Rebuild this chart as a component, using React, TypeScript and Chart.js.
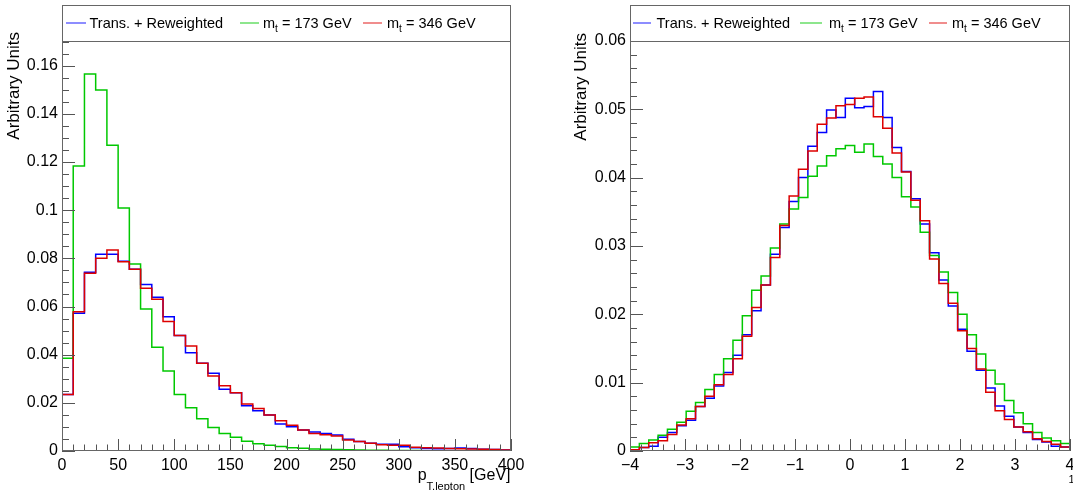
import React, { useEffect, useRef } from "react";
import { Chart, registerables } from "chart.js";

Chart.register(...registerables);

const FONT = "'Liberation Sans', Arial, Helvetica, sans-serif";

// ---------- Left panel: lepton pT, 40 bins of 10 GeV in [0, 400] ----------
const ptRange = [0, 400];
const ptBinCount = 40;
const ptReweighted = [
  0.0235, 0.0572, 0.0742, 0.0817, 0.0817, 0.0788, 0.0755, 0.0691, 0.0638, 0.0558,
  0.048, 0.0408, 0.0364, 0.0323, 0.0256, 0.0242, 0.0188, 0.0167, 0.015, 0.0112,
  0.0101, 0.0087, 0.0079, 0.0073, 0.0066, 0.0049, 0.0039, 0.0032, 0.0028, 0.0028,
  0.0018, 0.0014, 0.001, 0.0009, 0.001, 0.0012, 0.001, 0.0007, 0.0006, 0.0004,
];
const ptMt173 = [
  0.0385, 0.1184, 0.1566, 0.1499, 0.127, 0.1009, 0.0777, 0.059, 0.0431, 0.0332,
  0.0235, 0.018, 0.0134, 0.0098, 0.0073, 0.0057, 0.004, 0.003, 0.0024, 0.0019,
  0.0014, 0.0011, 0.0008, 0.0007, 0.0006, 0.0005, 0.0004, 0.0003, 0.0003, 0.0002,
  0.0002, 0.0002, 0.0001, 0.0001, 0.0001, 0.0001, 0.0001, 0.0001, 0.0001, 0.0001,
];
const ptMt346 = [
  0.0235, 0.0578, 0.0738, 0.08, 0.0835, 0.0786, 0.0755, 0.0676, 0.063, 0.0538,
  0.048, 0.0436, 0.0364, 0.0311, 0.0271, 0.0242, 0.0195, 0.0176, 0.015, 0.0126,
  0.0107, 0.0087, 0.0073, 0.0068, 0.0062, 0.0046, 0.0039, 0.0032, 0.0026, 0.0024,
  0.0024, 0.0016, 0.0014, 0.0012, 0.001, 0.0009, 0.0008, 0.0007, 0.0006, 0.0004,
];
const ptXTicks = [0, 50, 100, 150, 200, 250, 300, 350, 400];
const ptYTicks = [0, 0.02, 0.04, 0.06, 0.08, 0.1, 0.12, 0.14, 0.16];

// ---------- Right panel: 47 bins in [-4, 4] ----------
const etaRange = [-4, 4];
const etaBinCount = 47;
const etaReweighted = [
  0.0002, 0.0005, 0.0007, 0.002, 0.0027, 0.0037, 0.0045, 0.0065, 0.0077, 0.0095,
  0.0115, 0.014, 0.017, 0.0205, 0.0243, 0.0288, 0.0327, 0.0365, 0.04, 0.0446,
  0.0466, 0.0499, 0.0488, 0.0516, 0.0502, 0.0504, 0.0526, 0.0488, 0.0444, 0.0409,
  0.0369, 0.0332, 0.029, 0.025, 0.0212, 0.0178, 0.0146, 0.0118, 0.0092, 0.0066,
  0.0051, 0.0035, 0.0027, 0.0017, 0.0013, 0.0007, 0.0006,
];
const etaMt173 = [
  0.0006, 0.0011, 0.0016, 0.0023, 0.0032, 0.0042, 0.0058, 0.0071, 0.009, 0.0112,
  0.0135, 0.0162, 0.0198, 0.0235, 0.0256, 0.0297, 0.0332, 0.0354, 0.0371, 0.0402,
  0.0417, 0.0432, 0.0442, 0.0447, 0.0437, 0.0449, 0.0431, 0.042, 0.04, 0.0372,
  0.0357, 0.032, 0.0286, 0.0262, 0.0232, 0.02, 0.017, 0.0142, 0.0118, 0.0098,
  0.0074, 0.0056, 0.004, 0.0027, 0.0019, 0.0015, 0.0011,
];
const etaMt346 = [
  0.0002, 0.0005, 0.0012, 0.0015, 0.0024, 0.0038, 0.0047, 0.0065, 0.008, 0.0097,
  0.0112, 0.0135, 0.0168, 0.021, 0.0243, 0.0283, 0.033, 0.0373, 0.0412, 0.0439,
  0.0478, 0.0487, 0.0505, 0.0507, 0.0516, 0.0518, 0.0489, 0.0472, 0.0436, 0.0408,
  0.0367, 0.0337, 0.0281, 0.0245, 0.0216, 0.0176, 0.015, 0.012, 0.0086, 0.0059,
  0.0046, 0.0035, 0.0028, 0.0018, 0.0014, 0.001, 0.0006,
];
const etaXTicks = [-4, -3, -2, -1, 0, 1, 2, 3, 4];
const etaYTicks = [0, 0.01, 0.02, 0.03, 0.04, 0.05, 0.06];

const seriesNames = ["Trans. + Reweighted", "m_t = 173 GeV", "m_t = 346 GeV"];
const seriesColors = ["#0000ff", "#00c800", "#dd0000"];
const seriesOrder = [2, 1, 0];
const yTitle = "Arbitrary Units";

const SHIFT = 20; // canvas is shifted up by this many px
const CANVAS_H = 510;
const AREA_TOP = 6 + SHIFT;
const AREA_BOTTOM = 451 + SHIFT;
const LEGEND_BOTTOM = 41.5 + SHIFT;

function histPoints(values: number[], lo: number, hi: number, n: number) {
  const w = (hi - lo) / n;
  const pts = values.map((v, i) => ({ x: lo + i * w, y: v }));
  pts.push({ x: hi, y: values[values.length - 1] });
  return pts;
}

const fmtY = (v: number) => (v === 0 ? "0" : String(parseFloat(v.toFixed(4))));
const fmtX = (v: number) => (v < 0 ? "\u2212" + Math.abs(v) : String(v));

interface Panel {
  canvasLeft: number;
  canvasWidth: number;
  areaLeft: number;
  areaRight: number;
  range: number[];
  bins: number;
  series: number[][];
  xTicks: number[];
  yTicks: number[];
  yMax: number;
  xMinor: number;
  yMinor: number;
  legend: { x1: number; x2: number; tx: number }[];
  yTitleX: number;
  yTitleEnd: number;
  left: boolean;
}

const panels: Panel[] = [
  {
    canvasLeft: 0,
    canvasWidth: 536,
    areaLeft: 62,
    areaRight: 511,
    range: ptRange,
    bins: ptBinCount,
    series: [ptReweighted, ptMt173, ptMt346],
    xTicks: ptXTicks,
    yTicks: ptYTicks,
    yMax: 0.1848,
    xMinor: 10,
    yMinor: 0.005,
    legend: [
      { x1: 66, x2: 86, tx: 89.5 },
      { x1: 240, x2: 259, tx: 263 },
      { x1: 363, x2: 382, tx: 387 },
    ],
    yTitleX: 14,
    yTitleEnd: 32,
    left: true,
  },
  {
    canvasLeft: 536,
    canvasWidth: 580,
    areaLeft: 630 - 536,
    areaRight: 1070 - 536,
    range: etaRange,
    bins: etaBinCount,
    series: [etaReweighted, etaMt173, etaMt346],
    xTicks: etaXTicks,
    yTicks: etaYTicks,
    yMax: 0.0651,
    xMinor: 0.2,
    yMinor: 0.002,
    legend: [
      { x1: 633, x2: 651, tx: 656.5 },
      { x1: 800, x2: 822, tx: 829 },
      { x1: 929, x2: 947, tx: 952 },
    ],
    yTitleX: 581,
    yTitleEnd: 33,
    left: false,
  },
];

function drawRich(ctx: CanvasRenderingContext2D, text: string, x: number, baseline: number, size: number, subSize: number, subDrop: number) {
  const m = text.match(/^(.*?)_(\w)(.*)$/);
  ctx.textAlign = "left";
  ctx.textBaseline = "alphabetic";
  ctx.fillStyle = "#000";
  if (!m) {
    ctx.font = `${size}px ${FONT}`;
    ctx.fillText(text, x, baseline);
    return;
  }
  ctx.font = `${size}px ${FONT}`;
  ctx.fillText(m[1], x, baseline);
  let cx = x + ctx.measureText(m[1]).width;
  ctx.font = `${subSize}px ${FONT}`;
  ctx.fillText(m[2], cx, baseline + subDrop);
  cx += ctx.measureText(m[2]).width;
  ctx.font = `${size}px ${FONT}`;
  ctx.fillText(m[3], cx, baseline);
}

function makeDecor(p: Panel) {
  return {
    id: "rootDecor",
    afterDraw(chart: any) {
      const ctx: CanvasRenderingContext2D = chart.ctx;
      const a = chart.chartArea;
      const xs = chart.scales.x;
      const ys = chart.scales.y;
      const ox = p.canvasLeft;
      ctx.save();
      // ticks
      ctx.strokeStyle = "#555";
      ctx.lineWidth = 1;
      ctx.beginPath();
      const nx = Math.round((p.range[1] - p.range[0]) / p.xMinor);
      for (let i = 0; i <= nx; i++) {
        const v = p.range[0] + i * p.xMinor;
        const major = p.xTicks.some((t) => Math.abs(t - v) < 1e-6);
        const px = Math.round(xs.getPixelForValue(v)) + 0.5;
        ctx.moveTo(px, a.bottom);
        ctx.lineTo(px, a.bottom - (major ? 12 : 6.5));
      }
      const ny = Math.floor(p.yMax / p.yMinor + 1e-6);
      for (let i = 0; i <= ny; i++) {
        const v = i * p.yMinor;
        const major = p.yTicks.some((t) => Math.abs(t - v) < 1e-7);
        const py = Math.round(ys.getPixelForValue(v)) + 0.5;
        ctx.moveTo(a.left, py);
        ctx.lineTo(a.left + (major ? 13 : 7), py);
      }
      ctx.stroke();
      // legend box
      ctx.fillStyle = "#fff";
      ctx.fillRect(a.left, a.top - 1, a.right - a.left, LEGEND_BOTTOM - a.top + 1);
      ctx.strokeStyle = "#666";
      ctx.beginPath();
      ctx.moveTo(a.left, LEGEND_BOTTOM);
      ctx.lineTo(a.right, LEGEND_BOTTOM);
      ctx.stroke();
      // frame
      ctx.strokeRect(a.left + 0.5, a.top - 0.5, a.right - a.left - 1, a.bottom - a.top);
      // legend entries
      p.legend.forEach((e, i) => {
        ctx.strokeStyle = seriesColors[i];
        ctx.globalAlpha = 0.75;
        ctx.lineWidth = 1.2;
        ctx.beginPath();
        ctx.moveTo(e.x1 - ox, 23 + SHIFT);
        ctx.lineTo(e.x2 - ox, 23 + SHIFT);
        ctx.stroke();
        ctx.globalAlpha = 1;
        drawRich(ctx, seriesNames[i], e.tx - ox, 28 + SHIFT, 14.5, 10, 4);
      });
      // y title
      ctx.save();
      ctx.translate(p.yTitleX - ox, p.yTitleEnd + SHIFT);
      ctx.rotate(-Math.PI / 2);
      ctx.font = `17px ${FONT}`;
      ctx.fillStyle = "#000";
      ctx.textAlign = "right";
      ctx.textBaseline = "middle";
      ctx.fillText(yTitle, 0, 0);
      ctx.restore();
      // x title
      ctx.fillStyle = "#000";
      ctx.textBaseline = "alphabetic";
      if (p.left) {
        ctx.font = `16px ${FONT}`;
        const w1 = ctx.measureText("p").width;
        const w3 = ctx.measureText(" [GeV]").width;
        ctx.font = `11px ${FONT}`;
        const w2 = ctx.measureText("T,lepton").width;
        const end = 510.5;
        let cx = end - (w1 + w2 + w3);
        ctx.textAlign = "left";
        ctx.font = `16px ${FONT}`;
        ctx.fillText("p", cx, 480 + SHIFT);
        cx += w1;
        ctx.font = `11px ${FONT}`;
        ctx.fillText("T,lepton", cx, 489.6 + SHIFT);
        cx += w2;
        ctx.font = `16px ${FONT}`;
        ctx.fillText(" [GeV]", cx, 480 + SHIFT);
      } else {
        ctx.font = `11px ${FONT}`;
        ctx.textAlign = "left";
        ctx.fillText("1", 1068.5 - ox, 483 + SHIFT);
      }
      ctx.restore();
    },
  };
}

function PanelChart({ p }: { p: Panel }) {
  const ref = useRef<HTMLCanvasElement | null>(null);
  useEffect(() => {
    if (!ref.current) return;
    const datasets = p.series.map((vals, i) => ({
      label: seriesNames[i],
      data: histPoints(vals, p.range[0], p.range[1], p.bins),
      stepped: "before" as const,
      borderColor: seriesColors[i],
      borderWidth: 1.5,
      pointRadius: 0,
      fill: false,
      tension: 0,
      order: seriesOrder[i],
    }));
    const tickFont = { family: FONT, size: 16 };
    const chart = new Chart(ref.current, {
      type: "line",
      data: { datasets },
      options: {
        animation: false,
        responsive: false,
        maintainAspectRatio: false,
        devicePixelRatio: 1,
        layout: { padding: { left: 0, right: p.canvasWidth - p.areaRight, top: AREA_TOP, bottom: 0 } },
        plugins: { legend: { display: false }, tooltip: { enabled: false }, title: { display: false } },
        scales: {
          x: {
            type: "linear",
            min: p.range[0],
            max: p.range[1],
            grid: { display: false, drawTicks: false },
            border: { display: false },
            ticks: {
              color: "#000",
              font: tickFont,
              padding: 5,
              maxRotation: 0,
              minRotation: 0,
              autoSkip: false,
              callback: (v: any) => fmtX(Number(v)),
            },
            afterBuildTicks: (s: any) => {
              s.ticks = p.xTicks.map((v) => ({ value: v }));
            },
            afterFit: (s: any) => {
              s.height = CANVAS_H - AREA_BOTTOM;
            },
          },
          y: {
            type: "linear",
            min: 0,
            max: p.yMax,
            grid: { display: false, drawTicks: false },
            border: { display: false },
            ticks: {
              color: "#000",
              font: tickFont,
              padding: 4,
              autoSkip: false,
              callback: (v: any) => fmtY(Number(v)),
            },
            afterBuildTicks: (s: any) => {
              s.ticks = p.yTicks.map((v) => ({ value: v }));
            },
            afterFit: (s: any) => {
              s.width = p.areaLeft;
            },
          },
        },
      },
      plugins: [makeDecor(p)],
    } as any);
    return () => chart.destroy();
  }, [p]);
  return (
    <canvas
      ref={ref}
      width={p.canvasWidth}
      height={CANVAS_H}
      style={{
        position: "absolute",
        left: p.canvasLeft,
        top: -SHIFT,
        width: p.canvasWidth,
        height: CANVAS_H,
      }}
    />
  );
}

export default function App() {
  return (
    <div
      style={{
        position: "fixed",
        left: 0,
        top: 0,
        width: 1073,
        height: 490,
        overflow: "hidden",
        background: "#fff",
      }}
    >
      {panels.map((p, i) => (
        <PanelChart key={i} p={p} />
      ))}
    </div>
  );
}
